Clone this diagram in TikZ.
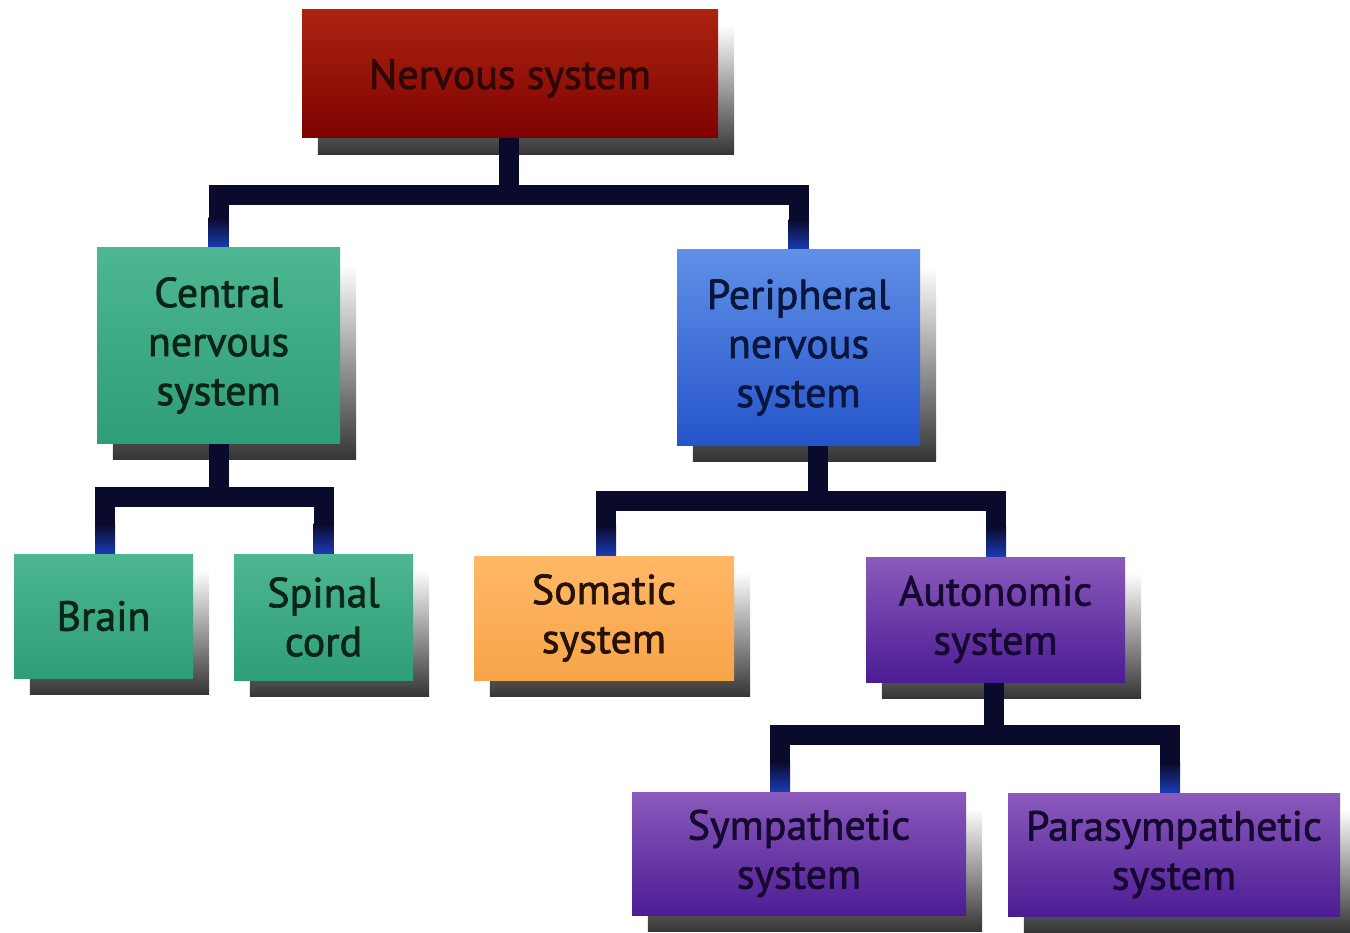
\documentclass[tikz,border=0pt]{standalone}
\usepackage{fontspec}
\setmainfont{PT Sans}
\newfontfamily\boxfont[FakeBold=1.6]{PT Sans}
\definecolor{redT}{HTML}{AC2410}
\definecolor{redB}{HTML}{7E0202}
\definecolor{redTx}{HTML}{2E0604}
\definecolor{grnT}{HTML}{4DB692}
\definecolor{grnB}{HTML}{2E9E78}
\definecolor{grnTx}{HTML}{0A2418}
\definecolor{bluT}{HTML}{6090E6}
\definecolor{bluB}{HTML}{2554CA}
\definecolor{bluTx}{HTML}{08163E}
\definecolor{orgT}{HTML}{FFB868}
\definecolor{orgB}{HTML}{F8A448}
\definecolor{orgTx}{HTML}{261204}
\definecolor{purT}{HTML}{8A5ABC}
\definecolor{purB}{HTML}{4C1C94}
\definecolor{purTx}{HTML}{160830}
\definecolor{navy}{HTML}{0A0A2C}
\definecolor{dropblue}{HTML}{1A3CB4}
\definecolor{shadowc}{HTML}{353535}
\pgfdeclarelayer{shadowlayer}
\pgfdeclarelayer{connlayer}
\pgfsetlayers{shadowlayer,connlayer,main}
\tikzset{
  boxbase/.style={rectangle, inner sep=0pt, align=center,
    font=\boxfont\fontsize{42}{49}\selectfont},
  redbox/.style={boxbase, top color=redT, bottom color=redB, text=redTx},
  grnbox/.style={boxbase, top color=grnT, bottom color=grnB, text=grnTx},
  blubox/.style={boxbase, top color=bluT, bottom color=bluB, text=bluTx},
  orgbox/.style={boxbase, top color=orgT, bottom color=orgB, text=orgTx},
  purbox/.style={boxbase, top color=purT, bottom color=purB, text=purTx},
  conn/.style={draw=navy, line width=20pt, line join=miter},
  dropshade/.style={top color=navy, bottom color=dropblue},
  shadowbox/.style={top color=white, bottom color=shadowc, middle color=shadowc!50}
}
\newcommand\boxshadow[1]{\shade[shadowbox] ([shift={(16,16)}]#1.north west) rectangle ([shift={(16,16)}]#1.south east);}
\newcommand\dropblue[2]{\shade[dropshade] ([shift={(#2-10,-30)}]#1.north) rectangle ([shift={(#2+10,0)}]#1.north);}
\begin{document}
\begin{tikzpicture}[x=1pt,y=-1pt]
\useasboundingbox (0,0) rectangle (1350,933);
\clip (0,0) rectangle (1350,933);
% boxes
\node[redbox, minimum width=416pt, minimum height=128pt, text depth=-6pt] (ns) at (510,74) {Nervous system};
\node[grnbox, minimum width=243pt, minimum height=195pt] (cns) at (218.5,345.5) {Central\\nervous\\system};
\node[blubox, minimum width=243pt, minimum height=195pt] (pns) at (798.5,347.5) {Peripheral\\nervous\\system};
\node[grnbox, minimum width=179pt, minimum height=124pt] (brain) at (103.5,616) {Brain};
\node[grnbox, minimum width=179pt, minimum height=126pt] (spinal) at (323.5,617) {Spinal\\cord};
\node[orgbox, minimum width=260pt, minimum height=124pt] (som) at (604,618) {Somatic\\system};
\node[purbox, minimum width=259pt, minimum height=125pt] (aut) at (995.5,619.5) {Autonomic\\system};
\node[purbox, minimum width=334pt, minimum height=123pt] (sym) at (799,853.5) {Sympathetic\\system};
\node[purbox, minimum width=332pt, minimum height=123pt] (par) at (1174,854.5) {Parasympathetic\\system};
% shadows
\begin{pgfonlayer}{shadowlayer}
\boxshadow{ns}
\boxshadow{cns}
\boxshadow{pns}
\boxshadow{brain}
\boxshadow{spinal}
\boxshadow{som}
\boxshadow{aut}
\boxshadow{sym}
\boxshadow{par}
\end{pgfonlayer}
% connectors
\begin{pgfonlayer}{connlayer}
\draw[conn] ([xshift=-1pt]ns.south) -- ++(0,57) coordinate (j1) -| (cns.north);
\draw[conn] (j1) -| (pns.north);
\draw[conn] (cns.south) -- ++(0,54) coordinate (j2) -| ([xshift=1.5pt]brain.north);
\draw[conn] (j2) -| (spinal.north);
\draw[conn] ([xshift=19.5pt]pns.south) -- ++(0,56) coordinate (j3) -| ([xshift=2pt]som.north);
\draw[conn] (j3) -| ([xshift=0.5pt]aut.north);
\draw[conn] ([xshift=-1.5pt]aut.south) -- ++(0,53) coordinate (j4) -| ([xshift=-19pt]sym.north);
\draw[conn] (j4) -| ([xshift=-4pt]par.north);
\dropblue{cns}{0}
\dropblue{pns}{0}
\dropblue{brain}{1.5}
\dropblue{spinal}{0}
\dropblue{som}{2}
\dropblue{aut}{0.5}
\dropblue{sym}{-19}
\dropblue{par}{-4}
\end{pgfonlayer}
\end{tikzpicture}
\end{document}
